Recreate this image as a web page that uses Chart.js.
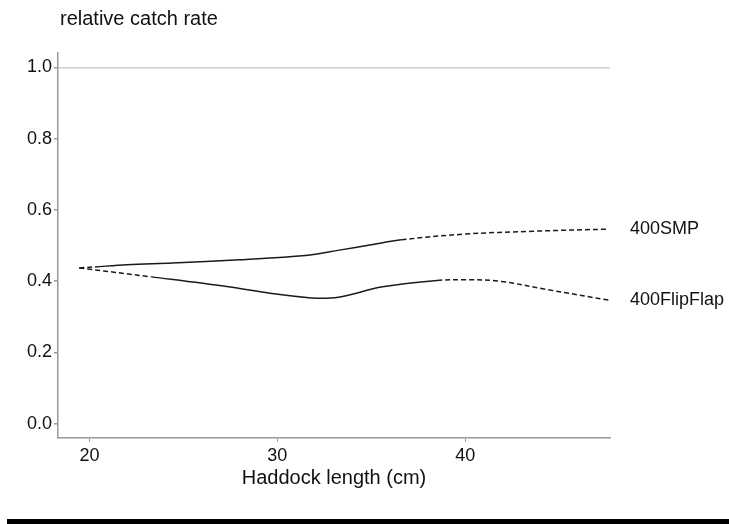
<!DOCTYPE html>
<html>
<head>
<meta charset="utf-8">
<script src="https://cdn.jsdelivr.net/npm/chart.js@4.4.0/dist/chart.umd.min.js"></script>
<style>
  body { margin: 0; background: #fff; }
  #wrap { position: relative; width: 729px; height: 524px; }
  #rule { position: absolute; left: 7px; right: 0; top: 519px; height: 5px; background: #000; }
</style>
</head>
<body>
<div id="wrap">
  <canvas id="catchChart" width="729" height="524"></canvas>
  <div id="rule"></div>
</div>
<script>
// values
const smpLength = [19.46, 20.3, 22.0, 24.4, 28.0, 31.5, 33.3, 35.0, 36.6, 40.0, 43.6, 47.6];
const smpRate = [0.437, 0.440, 0.446, 0.451, 0.460, 0.472, 0.487, 0.502, 0.516, 0.532, 0.540, 0.546];
const flipLength = [19.46, 23.3, 27.3, 29.6, 31.8, 32.6, 33.4, 35.6, 38.5, 40.0, 41.8, 44.4, 47.7];
const flipRate = [0.437, 0.412, 0.385, 0.366, 0.353, 0.352, 0.356, 0.384, 0.402, 0.404, 0.400, 0.376, 0.346];
// length range where each curve is drawn solid (dashed outside)
const smpSolid = [20.3, 36.6];
const flipSolid = [23.3, 38.5];
const seriesNames = ['400SMP', '400FlipFlap'];
const yTicks = [0, 0.2, 0.4, 0.6, 0.8, 1.0];
const xTicks = [20, 30, 40];

const FONT = 'Arial, "Liberation Sans", sans-serif';
const ctx = document.getElementById('catchChart').getContext('2d');

function toPoints(xs, ys) {
  return xs.map((x, i) => ({ x, y: ys[i] }));
}

function dashOutside(range) {
  return c => {
    const a = c.p0.parsed.x, b = c.p1.parsed.x;
    return (a >= range[0] - 1e-6 && b <= range[1] + 1e-6) ? undefined : [5, 3];
  };
}

const labelsPlugin = {
  id: 'labels',
  afterDraw(chart) {
    const g = chart.ctx;
    const area = chart.chartArea;
    g.save();
    g.fillStyle = '#111';
    g.textBaseline = 'middle';
    g.textAlign = 'left';
    g.font = '20px ' + FONT;
    g.fillText('relative catch rate', 60, 19);
    g.font = '18px ' + FONT;
    chart.data.datasets.forEach((ds, i) => {
      const pts = chart.getDatasetMeta(i).data;
      const last = pts[pts.length - 1];
      g.fillText(ds.label, area.right + 20, last.y);
    });
    g.restore();
  }
};

new Chart(ctx, {
  type: 'line',
  data: {
    datasets: [{
      label: seriesNames[0],
      data: toPoints(smpLength, smpRate),
      borderColor: '#1a1a1a',
      borderWidth: 1.5,
      pointRadius: 0,
      tension: 0.35,
      segment: { borderDash: dashOutside(smpSolid) }
    }, {
      label: seriesNames[1],
      data: toPoints(flipLength, flipRate),
      borderColor: '#1a1a1a',
      borderWidth: 1.5,
      pointRadius: 0,
      tension: 0.35,
      segment: { borderDash: dashOutside(flipSolid) }
    }]
  },
  options: {
    responsive: false,
    animation: false,
    layout: { padding: { left: 0, right: 119, top: 53, bottom: 0 } },
    plugins: { legend: { display: false }, tooltip: { enabled: false } },
    scales: {
      x: {
        type: 'linear',
        min: 18.33,
        max: 47.7,
        afterBuildTicks: s => { s.ticks = xTicks.map(v => ({ value: v })); },
        afterFit: s => { s.height = 86; },
        ticks: { color: '#111', font: { family: FONT, size: 18 }, padding: 3, maxRotation: 0 },
        grid: { drawOnChartArea: false, tickColor: '#999', tickLength: 4 },
        border: { color: '#999', width: 1.5 },
        title: {
          display: true,
          text: 'Haddock length (cm)',
          color: '#111',
          font: { family: FONT, size: 20 },
          padding: { top: 0, bottom: 34 }
        }
      },
      y: {
        min: -0.04,
        max: 1.04,
        afterBuildTicks: s => { s.ticks = yTicks.map(v => ({ value: v })); },
        afterFit: s => { s.width = 58; },
        ticks: {
          color: '#111',
          font: { family: FONT, size: 18 },
          padding: 2,
          callback: v => v.toFixed(1)
        },
        grid: {
          color: c => (c.tick && c.tick.value === 1) ? '#cfcfcf' : 'rgba(0,0,0,0)',
          lineWidth: 1.5,
          tickColor: '#999',
          tickLength: 4
        },
        border: { color: '#999', width: 1.5 }
      }
    }
  },
  plugins: [labelsPlugin]
});
</script>
</body>
</html>
